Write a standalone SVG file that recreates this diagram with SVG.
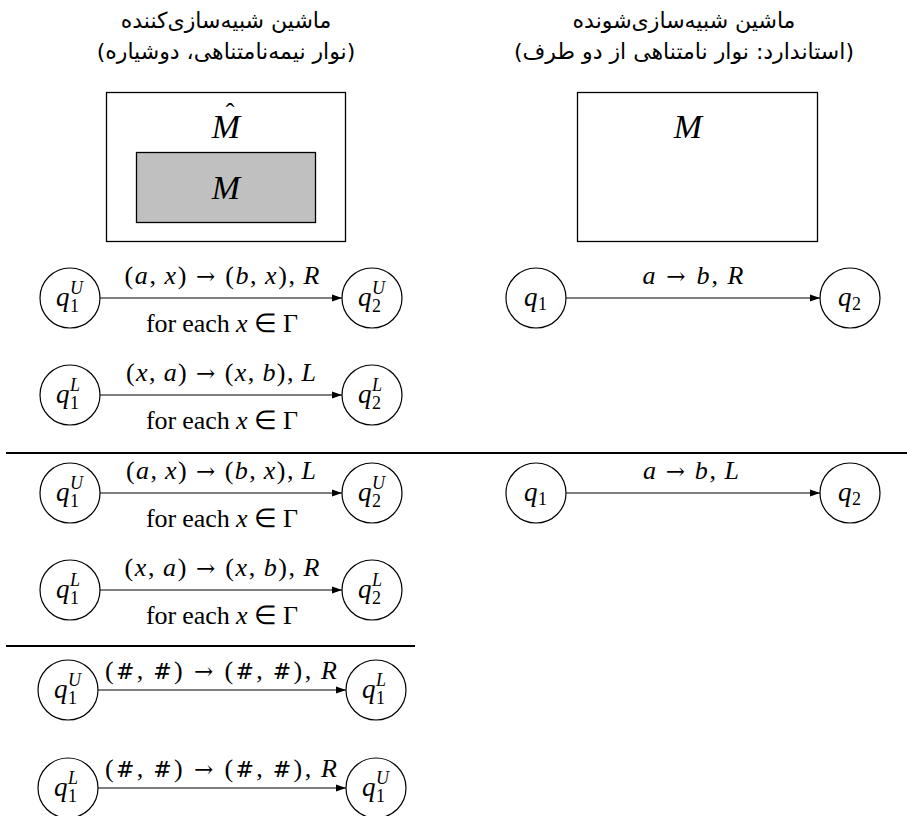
<svg xmlns="http://www.w3.org/2000/svg" width="907" height="816" viewBox="0 0 907 816">
<style>
.fa{font-family:"DejaVu Sans","Noto Sans",sans-serif;font-size:22px;direction:rtl;text-anchor:middle;fill:#000}
.m{font-family:"Liberation Serif",serif;font-size:26px;fill:#000}
.q{font-family:"Liberation Serif",serif;font-size:27px;font-style:italic;fill:#000}
.big{font-family:"Liberation Serif",serif;font-size:34px;font-style:italic;fill:#000;text-anchor:middle}
.i{font-style:italic}
.w{font-family:"DejaVu Serif",serif;font-size:23px}
.h{font-family:"DejaVu Serif",serif;font-size:22px}
.sb{font-size:18px;font-style:normal}
.sp{font-size:18px;font-style:italic}
.lbl{text-anchor:middle}
.node circle{fill:#fff;stroke:#000;stroke-width:1.2}
.edge{stroke:#000;stroke-width:1.2;fill:none;marker-end:url(#arr)}
.sep{stroke:#000;stroke-width:2}
.box{fill:#fff;stroke:#000;stroke-width:1.3}
</style>
<defs>
<marker id="arr" markerWidth="10" markerHeight="8" refX="10" refY="4" orient="auto" markerUnits="userSpaceOnUse"><path d="M0,0.5 L10,4 L0,7.5 z" fill="#000"/></marker>
</defs>
<rect width="907" height="816" fill="#fff"/>

<g id="header-left">
<text class="fa" x="226" y="28">ماشین شبیه&#x200C;سازی&#x200C;کننده</text>
<text class="fa" x="226" y="59">(نوار نیمه&#x200C;نامتناهی، دوشیاره)</text>
</g>
<g id="header-right">
<text class="fa" x="684" y="28">ماشین شبیه&#x200C;سازی&#x200C;شونده</text>
<text class="fa" x="684" y="59">(استاندارد: نوار نامتناهی از دو طرف)</text>
</g>

<g id="box-Mhat">
<rect class="box" x="106.5" y="92.5" width="239" height="149"/>
<text class="big" x="226" y="138">M<tspan x="230" dy="-17" font-size="26" font-style="normal">ˆ</tspan></text>
</g>
<g id="box-M-inner">
<rect x="136.5" y="152.5" width="179" height="70" fill="#c0c0c0" stroke="#000" stroke-width="1.3"/>
<text class="big" x="226" y="199">M</text>
</g>
<g id="box-M-right">
<rect class="box" x="577.5" y="92.5" width="240" height="149"/>
<text class="big" x="688" y="138">M</text>
</g>

<g id="connectors">
<line class="edge" x1="100" y1="298" x2="342" y2="298"/>
<line class="edge" x1="100" y1="395" x2="342" y2="395"/>
<line class="edge" x1="566" y1="298" x2="820" y2="298"/>
<line class="edge" x1="100" y1="493" x2="342" y2="493"/>
<line class="edge" x1="100" y1="590" x2="342" y2="590"/>
<line class="edge" x1="566" y1="493" x2="820" y2="493"/>
<line class="edge" x1="98" y1="690" x2="346" y2="690"/>
<line class="edge" x1="98" y1="788" x2="346" y2="788"/>
</g>

<g id="separators">
<line class="sep" x1="6" y1="453" x2="907" y2="453"/>
<line class="sep" x1="6" y1="646" x2="415" y2="646"/>
</g>

<g id="labels">
<text class="m lbl" x="222" y="284" textLength="195" lengthAdjust="spacing">(<tspan class="i">a</tspan>,&#x2009;<tspan class="i">x</tspan>) <tspan class="w">→</tspan> (<tspan class="i">b</tspan>,&#x2009;<tspan class="i">x</tspan>),&#x2009;<tspan class="i">R</tspan></text>
<text class="m lbl" x="222" y="332" textLength="152" lengthAdjust="spacing">for each <tspan class="i">x</tspan> ∈ Γ</text>
<text class="m lbl" x="221" y="381" textLength="190" lengthAdjust="spacing">(<tspan class="i">x</tspan>,&#x2009;<tspan class="i">a</tspan>) <tspan class="w">→</tspan> (<tspan class="i">x</tspan>,&#x2009;<tspan class="i">b</tspan>),&#x2009;<tspan class="i">L</tspan></text>
<text class="m lbl" x="222" y="429" textLength="152" lengthAdjust="spacing">for each <tspan class="i">x</tspan> ∈ Γ</text>
<text class="m lbl" x="693" y="284" textLength="101" lengthAdjust="spacing"><tspan class="i">a</tspan> <tspan class="w">→</tspan> <tspan class="i">b</tspan>,&#x2009;<tspan class="i">R</tspan></text>
<text class="m lbl" x="221" y="479" textLength="190" lengthAdjust="spacing">(<tspan class="i">a</tspan>,&#x2009;<tspan class="i">x</tspan>) <tspan class="w">→</tspan> (<tspan class="i">b</tspan>,&#x2009;<tspan class="i">x</tspan>),&#x2009;<tspan class="i">L</tspan></text>
<text class="m lbl" x="222" y="527" textLength="152" lengthAdjust="spacing">for each <tspan class="i">x</tspan> ∈ Γ</text>
<text class="m lbl" x="222" y="576" textLength="195" lengthAdjust="spacing">(<tspan class="i">x</tspan>,&#x2009;<tspan class="i">a</tspan>) <tspan class="w">→</tspan> (<tspan class="i">x</tspan>,&#x2009;<tspan class="i">b</tspan>),&#x2009;<tspan class="i">R</tspan></text>
<text class="m lbl" x="222" y="624" textLength="152" lengthAdjust="spacing">for each <tspan class="i">x</tspan> ∈ Γ</text>
<text class="m lbl" x="691" y="479" textLength="96" lengthAdjust="spacing"><tspan class="i">a</tspan> <tspan class="w">→</tspan> <tspan class="i">b</tspan>,&#x2009;<tspan class="i">L</tspan></text>
<text class="m lbl" x="221" y="679" textLength="232" lengthAdjust="spacing">(<tspan class="h">#</tspan>,&#x2009;<tspan class="h">#</tspan>) <tspan class="w">→</tspan> (<tspan class="h">#</tspan>,&#x2009;<tspan class="h">#</tspan>),&#x2009;<tspan class="i">R</tspan></text>
<text class="m lbl" x="221" y="777" textLength="232" lengthAdjust="spacing">(<tspan class="h">#</tspan>,&#x2009;<tspan class="h">#</tspan>) <tspan class="w">→</tspan> (<tspan class="h">#</tspan>,&#x2009;<tspan class="h">#</tspan>),&#x2009;<tspan class="i">R</tspan></text>
</g>

<g id="n1U" class="node"><circle cx="70" cy="298" r="30"/><text class="q" x="56" y="306">q<tspan class="sb" x="70" dy="6">1</tspan><tspan class="sp" x="70" dy="-18">U</tspan></text></g>
<g id="n2U" class="node"><circle cx="372" cy="298" r="30"/><text class="q" x="358" y="306">q<tspan class="sb" x="372" dy="6">2</tspan><tspan class="sp" x="372" dy="-18">U</tspan></text></g>
<g id="n1L" class="node"><circle cx="70" cy="395" r="30"/><text class="q" x="56" y="403">q<tspan class="sb" x="70" dy="6">1</tspan><tspan class="sp" x="70" dy="-18">L</tspan></text></g>
<g id="n2L" class="node"><circle cx="372" cy="395" r="30"/><text class="q" x="358" y="403">q<tspan class="sb" x="372" dy="6">2</tspan><tspan class="sp" x="372" dy="-18">L</tspan></text></g>
<g id="r1" class="node"><circle cx="536" cy="298" r="30"/><text class="q" x="524" y="306">q<tspan class="sb" x="538" dy="4">1</tspan></text></g>
<g id="r2" class="node"><circle cx="850" cy="298" r="30"/><text class="q" x="838" y="306">q<tspan class="sb" x="852" dy="4">2</tspan></text></g>

<g id="n3U" class="node"><circle cx="70" cy="493" r="30"/><text class="q" x="56" y="501">q<tspan class="sb" x="70" dy="6">1</tspan><tspan class="sp" x="70" dy="-18">U</tspan></text></g>
<g id="n4U" class="node"><circle cx="372" cy="493" r="30"/><text class="q" x="358" y="501">q<tspan class="sb" x="372" dy="6">2</tspan><tspan class="sp" x="372" dy="-18">U</tspan></text></g>
<g id="n3L" class="node"><circle cx="70" cy="590" r="30"/><text class="q" x="56" y="598">q<tspan class="sb" x="70" dy="6">1</tspan><tspan class="sp" x="70" dy="-18">L</tspan></text></g>
<g id="n4L" class="node"><circle cx="372" cy="590" r="30"/><text class="q" x="358" y="598">q<tspan class="sb" x="372" dy="6">2</tspan><tspan class="sp" x="372" dy="-18">L</tspan></text></g>
<g id="r3" class="node"><circle cx="536" cy="493" r="30"/><text class="q" x="524" y="501">q<tspan class="sb" x="538" dy="4">1</tspan></text></g>
<g id="r4" class="node"><circle cx="850" cy="493" r="30"/><text class="q" x="838" y="501">q<tspan class="sb" x="852" dy="4">2</tspan></text></g>

<g id="n5U" class="node"><circle cx="68" cy="690" r="30"/><text class="q" x="54" y="698">q<tspan class="sb" x="68" dy="6">1</tspan><tspan class="sp" x="68" dy="-18">U</tspan></text></g>
<g id="n5L" class="node"><circle cx="376" cy="690" r="30"/><text class="q" x="362" y="698">q<tspan class="sb" x="376" dy="6">1</tspan><tspan class="sp" x="376" dy="-18">L</tspan></text></g>
<g id="n6L" class="node"><circle cx="68" cy="788" r="30"/><text class="q" x="54" y="796">q<tspan class="sb" x="68" dy="6">1</tspan><tspan class="sp" x="68" dy="-18">L</tspan></text></g>
<g id="n6U" class="node"><circle cx="376" cy="788" r="30"/><text class="q" x="362" y="796">q<tspan class="sb" x="376" dy="6">1</tspan><tspan class="sp" x="376" dy="-18">U</tspan></text></g>
</svg>
